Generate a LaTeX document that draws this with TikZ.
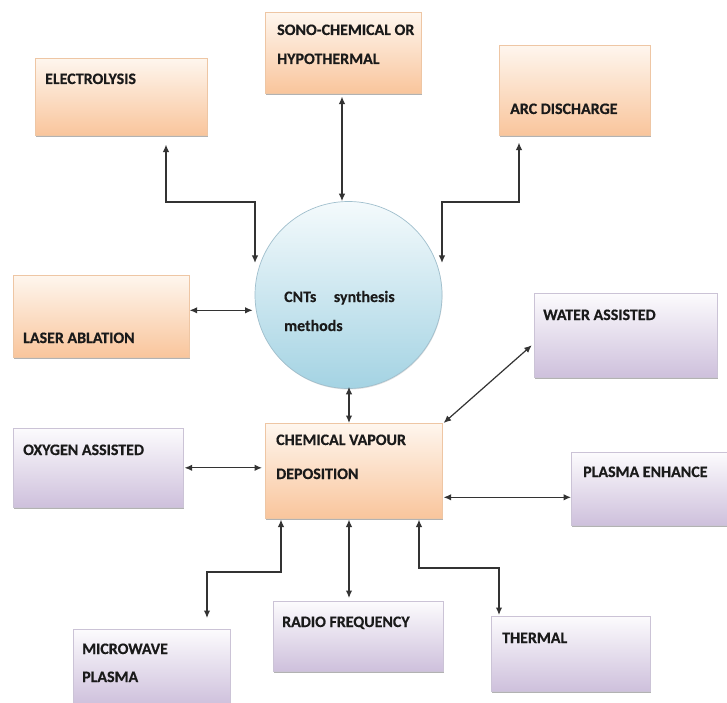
\documentclass[tikz,border=0pt]{standalone}
\usepackage{fontspec}
\setmainfont{Carlito}
\newfontfamily\boxfont{Carlito}[UprightFont=*-Bold, FakeBold=0.5]
\newfontfamily\circfont{Carlito}[UprightFont=*-Bold, FakeBold=0.2]
\usetikzlibrary{arrows.meta,shadows}
\definecolor{orTop}{HTML}{FEF6EE}
\definecolor{orBot}{HTML}{F9C59C}
\definecolor{orLine}{HTML}{EEC6A4}
\definecolor{lvTop}{HTML}{FCFBFD}
\definecolor{lvBot}{HTML}{CEC0DC}
\definecolor{lvLine}{HTML}{CBC3D6}
\definecolor{blTop}{HTML}{F4FAFC}
\definecolor{blBot}{HTML}{A4D3E3}
\definecolor{blLine}{HTML}{A0BFCD}
\definecolor{ink}{HTML}{1A1A1A}
\definecolor{lineink}{HTML}{333333}
\tikzset{
  boxbase/.style={rectangle, inner sep=0pt, anchor=north west, line width=0.6bp,
    drop shadow={shadow xshift=0.6bp, shadow yshift=-1.8bp, fill=black, opacity=0.3}},
  obox/.style={boxbase, top color=orTop, bottom color=orBot, draw=orLine},
  lbox/.style={boxbase, top color=lvTop, bottom color=lvBot, draw=lvLine},
  lbl/.style={anchor=base west, inner sep=0pt, text=ink, font=\boxfont\fontsize{16}{19}\selectfont},
  clbl/.style={anchor=base west, inner sep=0pt, text=ink, font=\circfont\fontsize{16}{19}\selectfont},
  arr/.style={{Latex[length=7.5bp,width=6.5bp]}-{Latex[length=7.5bp,width=6.5bp]}, line width=1.2bp, draw=lineink}
}
\begin{document}
\begin{tikzpicture}[x=1bp, y=-1bp]
\useasboundingbox (0,0) rectangle (727,703);
\fill[white] (0,0) rectangle (727,703);

% boxes
\node[obox, minimum width=172bp, minimum height=77bp] (elec) at (35,58) {};
\node[obox, minimum width=156bp, minimum height=81bp] (sono) at (265,12) {};
\node[obox, minimum width=151bp, minimum height=90bp] (arc) at (499,45) {};
\node[obox, minimum width=176bp, minimum height=82bp] (laser) at (13,275) {};
\node[obox, minimum width=177bp, minimum height=95bp] (cvd) at (265,423) {};
\node[lbox, minimum width=170bp, minimum height=79bp] (oxy) at (13,428) {};
\node[lbox, minimum width=183bp, minimum height=84bp] (water) at (534,293) {};
\node[lbox, minimum width=164bp, minimum height=73bp] (plasma) at (571,452) {};
\node[lbox, minimum width=157bp, minimum height=76bp] (micro) at (73,629) {};
\node[lbox, minimum width=170bp, minimum height=70bp] (radio) at (273,601) {};
\node[lbox, minimum width=159bp, minimum height=75bp] (thermal) at (491,616) {};
\node[circle, minimum size=187bp, inner sep=0pt, top color=blTop, bottom color=blBot,
      draw=blLine, line width=0.7bp,
      drop shadow={shadow xshift=0.5bp, shadow yshift=-1bp, fill=black, opacity=0.12}] (circ) at (348.5,295) {};

% labels
\node[lbl] (telec) at (45,84) {ELECTROLYSIS};
\node[lbl] (tsono1) at (277,35) {SONO-CHEMICAL OR};
\node[lbl] (tsono2) at (277,64) {HYPOTHERMAL};
\node[lbl] (tarc) at (510,114) {ARC DISCHARGE};
\node[lbl] (tlaser) at (23,343) {LASER ABLATION};
\node[lbl] (tcvd1) at (276,445) {CHEMICAL VAPOUR};
\node[lbl] (tcvd2) at (276,479) {DEPOSITION};
\node[lbl] (toxy) at (23,455) {OXYGEN ASSISTED};
\node[lbl] (twater) at (543,320) {WATER ASSISTED};
\node[lbl] (tplasma) at (583,477) {PLASMA ENHANCE};
\node[lbl] (tmicro1) at (82,654) {MICROWAVE};
\node[lbl] (tmicro2) at (82,682) {PLASMA};
\node[lbl] (tradio) at (282,627) {RADIO FREQUENCY};
\node[lbl] (tthermal) at (502,643) {THERMAL};
\node[clbl] (tcirc1) at (284,302) {CNTs\hskip 1.1em synthesis};
\node[clbl] (tcirc2) at (284,331) {methods};

% bend points
\coordinate (e1) at (166,202);
\coordinate (e2) at (255,202);
\coordinate (a1) at (519,202);
\coordinate (a2) at (442,202);
\coordinate (s1) at (342,150);
\coordinate (m1) at (281,572);
\coordinate (m2) at (207,572);
\coordinate (h1) at (419,568);
\coordinate (h2) at (499,568);
\coordinate (r1) at (349,560);

% connectors
\draw[arr, shorten <=9bp] (elec.south -| e1) -- (e1) -- (e2) -- (e2 |- circ.160);
\draw[arr, shorten <=3bp] (sono.south -| s1) -- (s1 |- circ.north);
\draw[arr, shorten <=7bp] (arc.south -| a1) -- (a1) -- (a2) -- (a2 |- circ.20);
\draw[arr, shorten <=0bp, shorten >=2bp] ([yshift=6bp]laser.east) -- ([yshift=6bp]laser.east -| circ.west);
\draw[arr, shorten <=-2bp] (circ.south -| r1) -- (cvd.north -| r1);
\draw[arr, shorten <=1bp, shorten >=3bp] (oxy.east) -- (oxy.east -| cvd.west);
\draw[arr, shorten <=3bp] ([yshift=-8bp]water.west) -- ([xshift=1bp]cvd.north east);
\draw[arr, shorten >=1bp] ([yshift=-8.5bp]plasma.west) -- ([yshift=-8.5bp]plasma.west -| cvd.east);
\draw[arr, shorten <=1bp, shorten >=11bp] (cvd.south -| m1) -- (m1) -- (m2) -- (micro.north -| m2);
\draw[arr, shorten <=1bp, shorten >=3bp] (cvd.south -| r1) -- (radio.north -| r1);
\draw[arr, shorten <=1bp, shorten >=1bp] (cvd.south -| h1) -- (h1) -- (h2) -- (thermal.north -| h2);
\end{tikzpicture}
\end{document}
